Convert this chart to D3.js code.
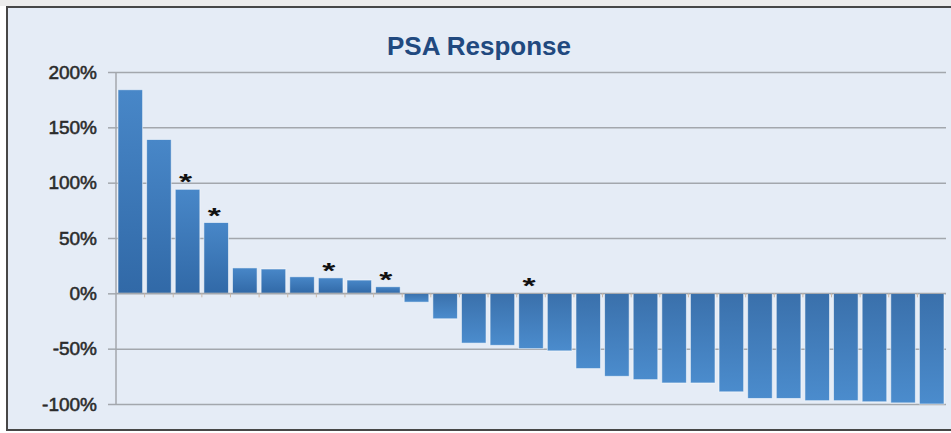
<!DOCTYPE html>
<html><head><meta charset="utf-8">
<script src="https://cdn.jsdelivr.net/npm/d3@7"></script>
<style>body{margin:0;background:#fff}svg{display:block}</style>
</head><body><svg id="c" width="951" height="433"></svg>
<script>
const title = "PSA Response";
const categories = ["1","2","3","4","5","6","7","8","9","10","11","12","13","14","15","16","17","18","19","20","21","22","23","24","25","26","27","28","29"];
const values = [184,139,94,64,23,22,15,14,12,6,-8,-23,-45,-47,-50,-52,-68,-75,-78,-81,-81,-89,-95,-95,-97,-97,-98,-99,-100];
const starred = ["3","4","8","10","15"];
const yTicks = [-100,-50,0,50,100,150,200];

const svg = d3.select("#c");
const W = 951, H = 433;
const plot = {left:116, right:946, top:72, bottom:404};

// frame
svg.append("rect").attr("x",0).attr("y",0).attr("width",W).attr("height",6).attr("fill","#ececec");
svg.append("rect").attr("x",7).attr("y",7).attr("width",W+10).attr("height",423)
  .attr("fill","#e5ecf6").attr("stroke","#474747").attr("stroke-width",2);

const defs = svg.append("defs");
const pg = defs.append("linearGradient").attr("id","pos").attr("x1",0).attr("y1",0).attr("x2",0).attr("y2",1);
pg.append("stop").attr("offset","0%").attr("stop-color","#4887c8");
pg.append("stop").attr("offset","100%").attr("stop-color","#3169a7");
const ng = defs.append("linearGradient").attr("id","neg").attr("x1",0).attr("y1",0).attr("x2",0).attr("y2",1);
ng.append("stop").attr("offset","0%").attr("stop-color","#3a70ab");
ng.append("stop").attr("offset","100%").attr("stop-color","#4b8ccd");

const x = d3.scaleBand().domain(categories).range([plot.left, plot.right]).paddingInner(0.14).paddingOuter(0.07);
const y = d3.scaleLinear().domain([-100,200]).range([plot.bottom, plot.top]);

// gridlines
const grid = svg.append("g").attr("transform",`translate(${plot.left},0)`)
  .call(d3.axisLeft(y).tickValues(yTicks).tickSize(-(plot.right-plot.left)).tickFormat(""));
grid.select(".domain").remove();
grid.selectAll("line").attr("stroke","#a3a7ad").attr("stroke-width",1.5);

// y axis
const ya = svg.append("g").attr("transform",`translate(${plot.left},0)`)
  .call(d3.axisLeft(y).tickValues(yTicks).tickSize(8).tickPadding(11).tickFormat(d => d + "%"));
ya.select(".domain").attr("stroke","#a3a7ad").attr("stroke-width",1.5).attr("d",`M0,${plot.top}V${plot.bottom}`);
ya.selectAll("line").attr("stroke","#a3a7ad").attr("stroke-width",1.5);
ya.selectAll("text").attr("font-family","Liberation Sans, Arial, sans-serif").attr("font-size",19)
  .attr("fill","#2b2b2b").attr("stroke","#2b2b2b").attr("stroke-width",0.55);

// bars
const data = categories.map((c,i) => ({c, v: values[i]}));
svg.append("g").selectAll("rect").data(data).join("rect")
  .attr("x", d => x(d.c))
  .attr("width", x.bandwidth())
  .attr("y", d => y(Math.max(0,d.v)))
  .attr("height", d => Math.abs(y(d.v) - y(0)))
  .attr("fill", d => d.v >= 0 ? "url(#pos)" : "url(#neg)")
  .attr("stroke","rgba(255,255,255,0.55)").attr("stroke-width",1);

// zero axis with category tick marks
const xa = svg.append("g").attr("transform",`translate(0,${y(0)})`);
xa.append("line").attr("x1",plot.left).attr("x2",plot.right).attr("stroke","#a3a7ad").attr("stroke-width",1.2);
xa.selectAll("line.t").data(categories.slice(1)).join("line").attr("class","t")
  .attr("x1", d => x(d) - x.step()*x.paddingInner()/2)
  .attr("x2", d => x(d) - x.step()*x.paddingInner()/2)
  .attr("y1",0).attr("y2",4).attr("stroke","#c9b8a8").attr("stroke-width",1);

// asterisks
svg.append("g").selectAll("text").data(data.filter(d => starred.includes(d.c))).join("text")
  .attr("transform", d => `translate(${x(d.c) + x.bandwidth()/2 - 2},${y(Math.max(0,d.v)) - 14}) scale(1.4,0.95)`)
  .attr("text-anchor","middle").attr("dy","0.62em")
  .attr("font-family","Liberation Sans, Arial, sans-serif").attr("font-weight","bold").attr("font-size",24)
  .attr("fill","#111").text("*");

// title
svg.append("text").attr("x",479).attr("y",55).attr("text-anchor","middle")
  .attr("font-family","Liberation Sans, Arial, sans-serif").attr("font-weight","bold").attr("font-size",26)
  .attr("fill","#21497f").text(title);
</script></body></html>
